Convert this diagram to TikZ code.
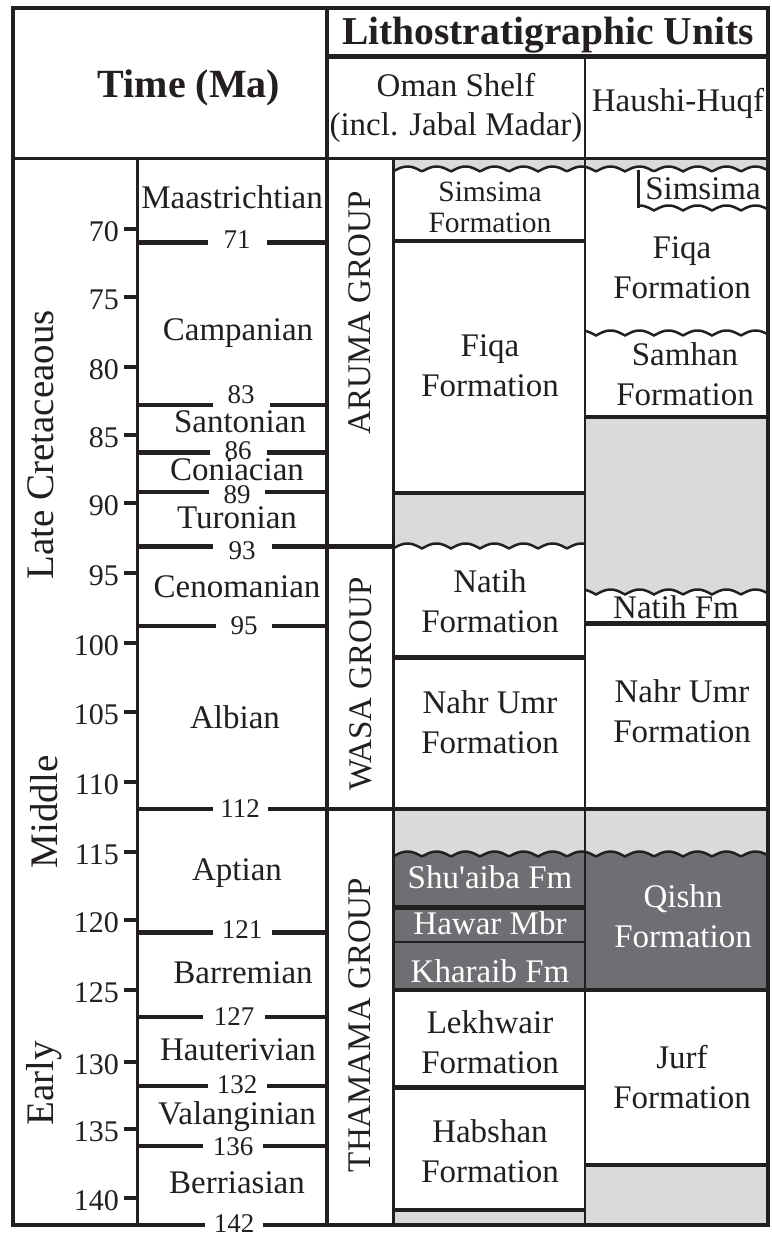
\documentclass[tikz,border=0pt]{standalone}
\usepackage{fontspec}
\setmainfont{Liberation Serif}
\definecolor{lg}{HTML}{D9DADC}
\definecolor{dg}{HTML}{6E6F73}
\definecolor{ink}{HTML}{231F20}
\newcommand\fs[2]{\fontsize{#1}{#2}\selectfont}
\newcommand\wave[3]{\draw[wline] plot[domain=#1:#2,samples=200] (\x,{#3+2.5-5*abs(sin(6.2069*(\x-393)))});}
\newcommand\bnd[5]{\draw[ln=#4] (137,#1) -- (#2,#1) (#3,#1) -- (#5,#1);}
\begin{document}
\begin{tikzpicture}[x=1pt,y=-1pt,
  every node/.style={inner sep=0pt, text=ink},
  lbl/.style={font=\fs{33}{40}, align=center},
  wlbl/.style={lbl, text=white},
  stg/.style={font=\fs{33}{40}, anchor=base},
  num/.style={font=\fs{30}{36}, anchor=east},
  bnum/.style={font=\fs{27}{32}},
  vlbl/.style={font=\fs{33}{40}, rotate=90, anchor=base},
  epoch/.style={font=\fs{39}{44}, rotate=90, anchor=base},
  hdr/.style={font=\bfseries\fs{40}{46}, anchor=base},
  ln/.style={draw=ink, line width=#1},
  ln/.default=3,
  wline/.style={draw=ink, line width=2.5},
]
\useasboundingbox (0,0) rectangle (771,1236);
\fill[white] (0,0) rectangle (771,1236);

% ---------- fills ----------
\fill[lg] (393,158) -- (768,158) -- plot[domain=768:393,samples=300] (\x,{169+2.5-5*abs(sin(6.2069*(\x-393)))}) -- cycle;
\fill[lg] (393,493) -- (585,493) -- plot[domain=585:393,samples=150] (\x,{546+2.5-5*abs(sin(6.2069*(\x-393)))}) -- cycle;
\fill[lg] (585,417) -- (768,417) -- plot[domain=768:585,samples=150] (\x,{592+2.5-5*abs(sin(6.2069*(\x-393)))}) -- cycle;
\fill[dg] (393,809) rectangle (768,990);
\fill[lg] (393,809) -- (768,809) -- plot[domain=768:393,samples=300] (\x,{854+2.5-5*abs(sin(6.2069*(\x-393)))}) -- cycle;
\fill[lg] (585,1165) rectangle (768,1225);
\fill[lg] (393,1210) rectangle (585,1225);

% ---------- unconformities ----------
\wave{393}{768}{169}
\wave{638}{768}{208}
\draw[ln=3] (638,170) -- (638,208);
\wave{585}{768}{333}
\wave{393}{585}{546}
\wave{585}{768}{592}
\wave{393}{768}{854}

% ---------- frame lines ----------
\draw[ln=3] (13,158) -- (768,158);
\draw[ln=5] (327,57) -- (768,57);
\draw[ln=3] (137,158) -- (137,1225);
\draw[ln=3.5] (327,8) -- (327,1225);
\draw[ln=3] (393,158) -- (393,1225);
\draw[ln=2.8] (585,57) -- (585,1225);

% ---------- formation boundaries ----------
\draw[ln=4] (393,241) -- (585,241);
\draw[ln=4] (393,493) -- (585,493);
\draw[ln=4] (585,417) -- (768,417);
\draw[ln=5] (585,623) -- (768,623);
\draw[ln=5] (393,657) -- (585,657);
\draw[ln=5] (393,907) -- (585,907);
\draw[ln=1.8] (393,942) -- (585,942);
\draw[ln=4] (393,990) -- (768,990);
\draw[ln=5] (393,1087) -- (585,1087);
\draw[ln=4] (585,1165) -- (768,1165);
\draw[ln=4] (393,1210) -- (585,1210);

% ---------- stage boundaries ----------
\bnd{242}{208}{267}{5}{327}
\bnd{405}{213}{270}{4}{327}
\bnd{452}{210}{267}{5}{327}
\bnd{492}{209}{265}{4}{327}
\bnd{546}{213}{272}{5}{393}
\bnd{626}{216}{272}{4}{327}
\bnd{809}{213}{268}{4}{768}
\bnd{932}{213}{272}{5}{327}
\bnd{1017}{203}{265}{4}{327}
\bnd{1086}{208}{267}{4}{327}
\bnd{1146}{203}{263}{4}{327}

% ---------- ticks ----------
\foreach \t/\y in {70/229,75/297,80/367,85/435,90/503,95/573,100/643,105/712,110/782,115/852,120/920,125/990,130/1062,135/1129,140/1198} {
  \draw[ln=4] (124,\y) -- (137,\y);
  \node[num] (t\t) at (119,\y+3) {\t};
}

% ---------- boundary ages ----------
\node[bnum] (b71) at (237,240) {71};
\node[bnum] (b83) at (241,395) {83};
\node[bnum] (b86) at (238,451) {86};
\node[bnum] (b89) at (237,495) {89};
\node[bnum] (b93) at (242,551) {93};
\node[bnum] (b95) at (244,626) {95};
\node[bnum] (b112) at (240,809) {112};
\node[bnum] (b121) at (242,930) {121};
\node[bnum] (b127) at (234,1017) {127};
\node[bnum] (b132) at (237,1085) {132};
\node[bnum] (b136) at (233,1147) {136};
\node[bnum] (b142) at (234,1224) {142};

% ---------- outer frame ----------
\draw[ln=4] (205,1225) -- (13,1225) -- (13,8) -- (768,8) -- (768,1225) -- (263,1225);

% ---------- headers ----------
\node[hdr] (time) at (189,98) {Time (Ma)};
\node[hdr, font=\bfseries\fs{39.5}{46}] (litho) at (548,45) {Lithostratigraphic Units};
\node[lbl, font=\fs{33}{39}] (oman) at (456,108) {Oman Shelf\\(incl. Jabal Madar)};
\node[stg] (haushi) at (678,112) {Haushi-Huqf};

% ---------- epochs ----------
\node[epoch] (late) at (53,445) {Late Cretaceaous};
\node[epoch] (middle) at (57,812) {Middle};
\node[epoch] (early) at (53,1083) {Early};

% ---------- stages ----------
\node[stg] (maas) at (232,208) {Maastrichtian};
\node[stg] (camp) at (238,340) {Campanian};
\node[stg] (sant) at (240,432) {Santonian};
\node[stg] (coni) at (237,480) {Coniacian};
\node[stg] (turo) at (237,528) {Turonian};
\node[stg] (ceno) at (237,597) {Cenomanian};
\node[stg] (albi) at (235,728) {Albian};
\node[stg] (apti) at (237,880) {Aptian};
\node[stg] (barr) at (243,983) {Barremian};
\node[stg] (haut) at (238,1060) {Hauterivian};
\node[stg] (vala) at (237,1124) {Valanginian};
\node[stg] (berr) at (237,1193) {Berriasian};

% ---------- groups ----------
\node[vlbl] (aruma) at (370,313) {ARUMA GROUP};
\node[vlbl] (wasa) at (371,684) {WASA GROUP};
\node[vlbl] (thamama) at (370,1025) {THAMAMA GROUP};

% ---------- Oman Shelf formations ----------
\node[lbl, font=\fs{29.5}{31}] (simO) at (490,207) {Simsima\\Formation};
\node[lbl] (fiqaO) at (490,366) {Fiqa\\Formation};
\node[lbl] (natihO) at (490,601) {Natih\\Formation};
\node[lbl] (nahrO) at (490,722) {Nahr Umr\\Formation};
\node[wlbl] (shuaiba) at (490,877) {Shu\textquotesingle aiba Fm};
\node[wlbl] (hawar) at (490,923) {Hawar Mbr};
\node[wlbl] (kharaib) at (490,971) {Kharaib Fm};
\node[lbl] (lekhwair) at (490,1042) {Lekhwair\\Formation};
\node[lbl] (habshan) at (490,1151) {Habshan\\Formation};

% ---------- Haushi-Huqf formations ----------
\node[lbl] (simH) at (703,189) {Simsima};
\node[lbl] (fiqaH) at (682,268) {Fiqa\\Formation};
\node[lbl] (samhanH) at (685,374) {Samhan\\Formation};
\node[lbl] (natihH) at (676,607) {Natih Fm};
\node[lbl] (nahrH) at (682,711) {Nahr Umr\\Formation};
\node[wlbl] (qishn) at (683,916) {Qishn\\Formation};
\node[lbl] (jurf) at (682,1077) {Jurf\\Formation};
\end{tikzpicture}
\end{document}
